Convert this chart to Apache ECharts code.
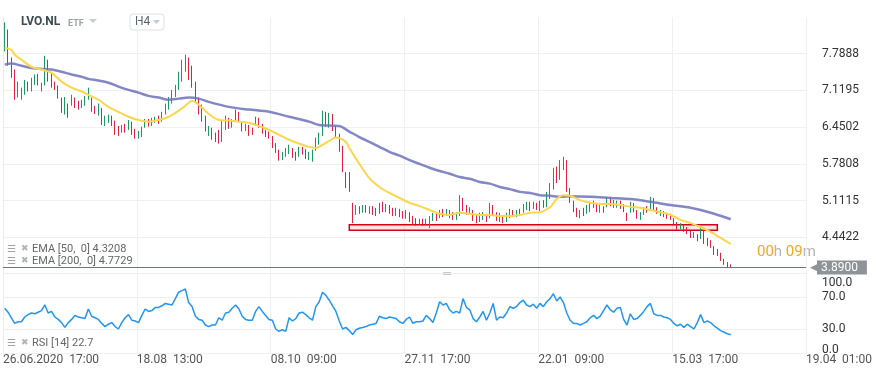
<!DOCTYPE html>
<html>
<head>
<meta charset="utf-8">
<title>LVO.NL H4</title>
<script src="https://cdn.jsdelivr.net/npm/echarts@6/dist/echarts.min.js"></script>
<style>
  html, body { margin: 0; padding: 0; background: #fff; }
  #chart { width: 882px; height: 377px; }
</style>
</head>
<body>
<div id="chart"></div>
<script>
// time axis labels, one every 40 slots
const xTickLabels = ['26.06.2020  17:00', '18.08  13:00', '08.10  09:00', '27.11  17:00', '22.01  09:00', '15.03  17:00', '19.04  01:00']
const priceTicks = [4.4422, 5.1115, 5.7808, 6.4502, 7.1195, 7.7888]
const rsiTicks = [0, 30, 70, 100]
const lastPrice = 3.89

// H4 candles: [open, close, low, high]
const candles = [
  [7.86, 8.17, 7.83, 8.36], [8.14, 7.64, 7.57, 8.23], [7.64, 7.41, 7.35, 7.72], [7.46, 7.04, 6.95, 7.50], [7.04, 7.22, 6.99, 7.28],
  [6.99, 7.10, 6.95, 7.17], [7.10, 7.26, 7.04, 7.31], [7.24, 7.13, 7.10, 7.28], [7.13, 7.31, 7.10, 7.35], [7.26, 7.37, 7.22, 7.41],
  [7.39, 7.26, 7.21, 7.42], [7.13, 7.22, 7.10, 7.26], [7.24, 7.68, 7.21, 7.75], [7.64, 7.35, 7.28, 7.68], [7.41, 7.22, 7.17, 7.46],
  [7.24, 7.17, 7.13, 7.28], [7.17, 7.00, 6.97, 7.21], [6.95, 6.77, 6.71, 6.99], [6.73, 6.95, 6.68, 7.00], [6.84, 6.68, 6.62, 6.88],
  [6.88, 7.00, 6.84, 7.04], [6.95, 6.84, 6.80, 6.99], [6.89, 6.80, 6.77, 6.93], [6.84, 6.89, 6.80, 6.95], [6.88, 6.99, 6.84, 7.02],
  [6.99, 7.13, 6.95, 7.17], [6.95, 6.77, 6.73, 6.99], [6.80, 6.73, 6.69, 6.84], [6.69, 6.84, 6.66, 6.88], [6.77, 6.55, 6.49, 6.80],
  [6.51, 6.62, 6.47, 6.66], [6.55, 6.64, 6.53, 6.68], [6.62, 6.51, 6.47, 6.66], [6.53, 6.37, 6.31, 6.57], [6.44, 6.33, 6.29, 6.47],
  [6.37, 6.46, 6.35, 6.49], [6.47, 6.38, 6.35, 6.51], [6.44, 6.55, 6.40, 6.58], [6.51, 6.37, 6.31, 6.55], [6.38, 6.27, 6.24, 6.42],
  [6.27, 6.35, 6.24, 6.38], [6.31, 6.42, 6.27, 6.46], [6.46, 6.57, 6.44, 6.60], [6.57, 6.47, 6.46, 6.60], [6.49, 6.58, 6.47, 6.62],
  [6.55, 6.60, 6.53, 6.64], [6.62, 6.55, 6.51, 6.66], [6.57, 6.69, 6.55, 6.73], [6.69, 6.84, 6.68, 6.88], [6.80, 6.95, 6.77, 7.00],
  [6.91, 7.08, 6.88, 7.13], [7.04, 7.19, 7.00, 7.22], [7.17, 7.39, 7.13, 7.46], [7.35, 7.61, 7.28, 7.68], [7.53, 7.72, 7.46, 7.77],
  [7.64, 7.41, 7.31, 7.72], [7.46, 7.21, 7.17, 7.57], [7.22, 6.95, 6.89, 7.28], [6.95, 6.73, 6.68, 6.99], [6.80, 6.58, 6.55, 6.86],
  [6.62, 6.40, 6.37, 6.66], [6.33, 6.44, 6.29, 6.47], [6.40, 6.26, 6.22, 6.44], [6.31, 6.22, 6.18, 6.35], [6.37, 6.18, 6.15, 6.40],
  [6.22, 6.49, 6.18, 6.58], [6.44, 6.62, 6.40, 6.66], [6.58, 6.46, 6.42, 6.62], [6.47, 6.57, 6.44, 6.60], [6.73, 6.62, 6.58, 6.77],
  [6.69, 6.58, 6.55, 6.73], [6.51, 6.40, 6.37, 6.55], [6.40, 6.47, 6.38, 6.51], [6.46, 6.33, 6.29, 6.49], [6.40, 6.33, 6.31, 6.44],
  [6.51, 6.60, 6.47, 6.64], [6.58, 6.47, 6.44, 6.62], [6.47, 6.37, 6.33, 6.51], [6.37, 6.29, 6.27, 6.40], [6.33, 6.27, 6.24, 6.37],
  [6.26, 6.11, 6.07, 6.29], [6.13, 6.04, 5.98, 6.16], [6.00, 5.89, 5.84, 6.04], [5.89, 5.96, 5.85, 6.00], [5.93, 6.04, 5.91, 6.07],
  [6.00, 6.09, 5.96, 6.13], [6.04, 5.93, 5.89, 6.07], [5.96, 5.87, 5.84, 6.00], [5.95, 6.05, 5.91, 6.09], [6.05, 5.98, 5.95, 6.09],
  [6.02, 5.91, 5.87, 6.05], [5.89, 5.96, 5.85, 6.00], [5.85, 6.00, 5.82, 6.04], [6.04, 6.22, 6.02, 6.26], [6.16, 6.29, 6.13, 6.35],
  [6.33, 6.68, 6.29, 6.75], [6.69, 6.51, 6.46, 6.73], [6.47, 6.66, 6.44, 6.71], [6.66, 6.44, 6.38, 6.69], [6.44, 6.29, 6.26, 6.47],
  [6.29, 6.07, 6.00, 6.33], [6.07, 5.71, 5.63, 6.11], [5.58, 5.38, 5.34, 5.63], [5.53, 5.31, 5.27, 5.63], [5.05, 4.76, 4.70, 5.07],
  [4.89, 4.99, 4.85, 5.03], [4.98, 4.90, 4.87, 5.01], [4.90, 4.99, 4.89, 5.03], [4.99, 4.92, 4.89, 5.03], [4.90, 4.98, 4.87, 5.01],
  [4.98, 4.89, 4.85, 5.01], [4.94, 4.87, 4.83, 4.98], [4.90, 5.01, 4.87, 5.07], [5.05, 4.94, 4.90, 5.09], [4.92, 5.01, 4.90, 5.05],
  [4.99, 4.90, 4.87, 5.03], [4.94, 4.87, 4.83, 4.98], [4.87, 4.94, 4.83, 4.98], [4.92, 4.85, 4.81, 4.96], [4.89, 4.81, 4.78, 4.92],
  [4.79, 4.90, 4.78, 4.94], [4.87, 4.76, 4.72, 4.90], [4.79, 4.70, 4.67, 4.83], [4.76, 4.69, 4.65, 4.79], [4.69, 4.74, 4.67, 4.78],
  [4.74, 4.69, 4.65, 4.78], [4.67, 4.74, 4.65, 4.78], [4.65, 4.79, 4.61, 4.83], [4.78, 4.85, 4.74, 4.89], [4.85, 4.78, 4.74, 4.89],
  [4.81, 4.90, 4.79, 4.94], [4.92, 4.85, 4.81, 4.96], [4.85, 4.92, 4.83, 4.96], [4.90, 4.83, 4.79, 4.94], [4.87, 4.79, 4.76, 4.90],
  [4.78, 4.87, 4.76, 4.90], [4.87, 5.16, 4.83, 5.21], [5.12, 4.96, 4.92, 5.16], [4.99, 4.89, 4.85, 5.03], [4.89, 4.96, 4.87, 4.99],
  [4.90, 4.78, 4.74, 4.94], [4.81, 4.74, 4.70, 4.85], [4.74, 4.85, 4.72, 4.89], [4.78, 4.87, 4.76, 4.90], [4.83, 4.76, 4.72, 4.87],
  [4.83, 5.01, 4.79, 5.07], [4.99, 4.89, 4.85, 5.03], [4.87, 4.78, 4.74, 4.90], [4.76, 4.85, 4.72, 4.89], [4.81, 4.72, 4.70, 4.85],
  [4.74, 4.85, 4.72, 4.89], [4.83, 4.92, 4.79, 4.96], [4.90, 4.83, 4.81, 4.94], [4.85, 4.90, 4.81, 4.94], [4.92, 4.87, 4.83, 4.96],
  [4.90, 5.01, 4.89, 5.05], [4.98, 5.05, 4.94, 5.09], [5.05, 4.96, 4.92, 5.09], [4.98, 5.05, 4.96, 5.09], [5.03, 4.98, 4.94, 5.07],
  [4.96, 5.07, 4.92, 5.11], [5.09, 5.01, 4.98, 5.12], [5.03, 5.21, 4.99, 5.27], [5.18, 5.38, 5.14, 5.43], [5.34, 5.63, 5.31, 5.71],
  [5.67, 5.49, 5.43, 5.73], [5.53, 5.78, 5.49, 5.85], [5.74, 5.85, 5.67, 5.91], [5.82, 5.34, 5.27, 5.85], [5.31, 5.12, 5.07, 5.34],
  [5.07, 4.94, 4.90, 5.11], [4.94, 4.85, 4.81, 4.98], [4.83, 4.90, 4.79, 4.94], [4.94, 4.87, 4.83, 4.98], [4.89, 4.99, 4.87, 5.03],
  [4.94, 5.05, 4.90, 5.09], [5.07, 4.99, 4.98, 5.11], [5.03, 4.94, 4.90, 5.07], [4.92, 4.99, 4.89, 5.03], [4.98, 4.90, 4.89, 5.01],
  [5.01, 5.14, 4.99, 5.18], [5.14, 5.05, 5.01, 5.18], [5.09, 5.01, 4.98, 5.12], [5.01, 5.07, 4.98, 5.11], [5.07, 4.98, 4.96, 5.11],
  [5.01, 4.94, 4.90, 5.05], [4.85, 4.76, 4.74, 4.89], [4.90, 5.05, 4.89, 5.09], [5.03, 4.94, 4.90, 5.07], [4.90, 4.79, 4.78, 4.94],
  [4.78, 4.87, 4.76, 4.90], [4.87, 4.96, 4.85, 4.99], [4.98, 4.90, 4.89, 5.01], [4.94, 5.14, 4.92, 5.18], [5.12, 4.96, 4.94, 5.16],
  [4.96, 4.89, 4.87, 4.99], [4.85, 4.90, 4.83, 4.94], [4.89, 4.83, 4.81, 4.92], [4.85, 4.79, 4.78, 4.89], [4.83, 4.78, 4.76, 4.87],
  [4.76, 4.69, 4.65, 4.79], [4.69, 4.61, 4.58, 4.72], [4.61, 4.67, 4.59, 4.70], [4.63, 4.58, 4.54, 4.67], [4.59, 4.52, 4.50, 4.63],
  [4.52, 4.45, 4.43, 4.56], [4.45, 4.50, 4.43, 4.54], [4.47, 4.39, 4.37, 4.50], [4.43, 4.58, 4.41, 4.61], [4.54, 4.36, 4.32, 4.58],
  [4.39, 4.32, 4.28, 4.43], [4.36, 4.28, 4.25, 4.39], [4.25, 4.16, 4.12, 4.28], [4.19, 4.12, 4.10, 4.23], [4.12, 4.03, 4.01, 4.16],
  [4.01, 3.95, 3.94, 4.05], [3.97, 3.92, 3.90, 3.99], [3.94, 3.89, 3.88, 3.95]
]

// EMA values as [slot, price]
const ema50 = [
  [0, 7.90], [2, 7.86], [3, 7.77], [5, 7.68], [8, 7.55], [11, 7.50], [14, 7.44], [17, 7.28], [20, 7.17], [23, 7.10],
  [25, 7.04], [28, 6.95], [31, 6.82], [34, 6.73], [37, 6.64], [40, 6.58], [43, 6.55], [46, 6.58], [49, 6.64], [52, 6.75],
  [54, 6.84], [56, 6.93], [58, 6.86], [61, 6.69], [64, 6.58], [67, 6.57], [70, 6.55], [73, 6.53], [76, 6.47], [79, 6.40],
  [82, 6.31], [85, 6.22], [88, 6.15], [91, 6.09], [93, 6.07], [95, 6.13], [97, 6.20], [99, 6.26], [102, 6.18], [103, 6.07],
  [106, 5.78], [109, 5.52], [112, 5.36], [115, 5.25], [118, 5.16], [121, 5.07], [124, 5.01], [127, 4.94], [130, 4.87], [133, 4.85],
  [136, 4.89], [139, 4.87], [142, 4.85], [145, 4.85], [148, 4.83], [151, 4.83], [154, 4.85], [157, 4.89], [160, 4.90], [163, 4.99],
  [165, 5.14], [167, 5.21], [169, 5.20], [172, 5.12], [175, 5.07], [178, 5.05], [181, 5.05], [184, 5.03], [187, 5.00], [190, 4.98],
  [193, 4.94], [196, 4.90], [199, 4.85], [202, 4.76], [205, 4.70], [208, 4.63], [211, 4.54], [214, 4.43], [217, 4.32]
]
const ema200 = [
  [0, 7.59], [2, 7.61], [5, 7.57], [8, 7.53], [11, 7.51], [14, 7.50], [17, 7.46], [20, 7.41], [23, 7.37], [25, 7.33],
  [28, 7.30], [31, 7.26], [34, 7.19], [37, 7.13], [40, 7.08], [43, 7.02], [46, 6.99], [49, 6.95], [52, 6.97], [55, 6.99],
  [58, 6.97], [61, 6.91], [67, 6.82], [73, 6.77], [79, 6.73], [85, 6.64], [91, 6.55], [94, 6.49], [100, 6.47], [103, 6.37],
  [106, 6.27], [109, 6.18], [112, 6.09], [115, 6.00], [118, 5.93], [121, 5.85], [124, 5.78], [127, 5.71], [130, 5.65], [133, 5.60],
  [136, 5.54], [139, 5.51], [142, 5.45], [145, 5.42], [148, 5.36], [151, 5.32], [154, 5.27], [157, 5.25], [160, 5.21], [163, 5.20],
  [166, 5.18], [169, 5.19], [175, 5.18], [181, 5.16], [187, 5.14], [193, 5.09], [199, 5.03], [205, 4.98], [211, 4.89], [217, 4.77]
]

// RSI(14), one value per candle
const rsi14 = [
  56, 51, 44, 37, 39, 39, 45, 48, 50, 49, 51, 53, 60, 50, 52, 45, 42, 38, 32, 38,
  42, 47, 45, 44, 43, 55, 46, 44, 42, 37, 33, 36, 38, 33, 30, 38, 44, 48, 41, 40,
  38, 47, 55, 52, 53, 57, 57, 59, 62, 61, 60, 68, 76, 78, 80, 63, 58, 46, 42, 41,
  35, 33, 35, 35, 44, 41, 50, 51, 56, 60, 55, 46, 42, 41, 41, 52, 58, 52, 47, 42,
  41, 30, 27, 29, 27, 44, 40, 43, 50, 51, 48, 44, 41, 58, 64, 76, 72, 66, 59, 52,
  40, 30, 32, 28, 23, 29, 31, 32, 33, 35, 36, 37, 46, 44, 43, 45, 44, 43, 39, 37,
  42, 45, 37, 39, 39, 40, 47, 43, 38, 50, 64, 60, 62, 54, 50, 52, 50, 68, 57, 54,
  43, 39, 45, 52, 41, 50, 62, 41, 45, 44, 50, 58, 56, 58, 63, 66, 60, 58, 61, 56,
  62, 58, 64, 68, 74, 65, 70, 63, 50, 41, 37, 37, 35, 37, 39, 44, 47, 43, 46, 53,
  60, 54, 51, 56, 57, 42, 35, 49, 42, 43, 47, 52, 58, 62, 49, 47, 47, 45, 44, 42,
  37, 34, 36, 32, 36, 33, 30, 38, 48, 38, 40, 38, 34, 31, 28, 26, 24, 22.7
]

// support zone drawn on the price panel: [slot, price] corners
const zoneFrom = [103, 4.67]
const zoneTo = [213, 4.57]

const slotCount = 240
const slots = []
for (let i = 0; i < slotCount; i++) slots.push(i)

const gridColor = '#f0f0f0'
const labelFont = 'Roboto, sans-serif'

function hiddenCat(gridIndex, position) {
  return {
    type: 'category', gridIndex: gridIndex, data: slots, position: position, boundaryGap: true,
    axisLine: { show: false }, axisTick: { show: false }, axisLabel: { show: false }, splitLine: { show: false }
  }
}

function timeAxis(gridIndex, withLabels) {
  return {
    type: 'value', gridIndex: gridIndex, position: 'bottom', min: 0, max: slotCount, interval: 40,
    axisLine: { show: false },
    axisTick: { show: false },
    axisLabel: {
      show: withLabels,
      showMinLabel: true,
      showMaxLabel: true,
      formatter: (v) => xTickLabels[Math.round(v / 40)],
      align: 'left',
      margin: 1,
      color: '#555',
      fontSize: 12,
      fontFamily: labelFont
    },
    splitLine: { show: true, lineStyle: { color: gridColor, width: 1 } }
  }
}

const chart = echarts.init(document.getElementById('chart'))
const option = {
  animation: false,
  textStyle: { fontFamily: labelFont },
  grid: [
    { left: 3, right: 76, top: 17, bottom: 103 },
    { left: 3, right: 76, top: 273, bottom: 24 }
  ],
  xAxis: [
    hiddenCat(0, 'bottom'),
    timeAxis(0, false),
    hiddenCat(1, 'top'),
    timeAxis(1, true)
  ],
  yAxis: [
    {
      type: 'value', gridIndex: 0, position: 'right', min: 3.7729, max: 8.4581,
      axisLine: { show: true, lineStyle: { color: '#ececec' } },
      axisTick: { show: false, customValues: priceTicks },
      axisLabel: {
        customValues: priceTicks,
        formatter: (v) => v.toFixed(4),
        margin: 16, color: '#333', fontSize: 12, fontFamily: labelFont
      },
      splitLine: { show: true, lineStyle: { color: gridColor } }
    },
    {
      type: 'value', gridIndex: 1, position: 'right', min: 0, max: 100,
      axisLine: { show: true, lineStyle: { color: '#ececec' } },
      axisTick: { show: false, customValues: rsiTicks },
      axisLabel: {
        customValues: rsiTicks,
        formatter: (v) => {
          if (v === 100) return '{top|100.0}'
          if (v === 0) return '{bot|0.0}'
          return v.toFixed(1)
        },
        rich: {
          top: { padding: [19, 0, 0, 0], color: '#333', fontSize: 12, fontFamily: labelFont },
          bot: { padding: [0, 0, 6, 0], color: '#333', fontSize: 12, fontFamily: labelFont }
        },
        margin: 16, color: '#333', fontSize: 12, fontFamily: labelFont
      },
      splitLine: { show: true, lineStyle: { color: gridColor } }
    }
  ],
  series: [
    {
      type: 'candlestick',
      xAxisIndex: 0,
      yAxisIndex: 0,
      data: candles,
      barWidth: 1.2,
      itemStyle: {
        color: '#1a9a5c',
        color0: '#e4213c',
        borderColor: '#1a9a5c',
        borderColor0: '#e4213c',
        borderWidth: 1
      },
      markArea: {
        silent: true,
        itemStyle: { color: 'rgba(255, 70, 70, 0.15)', borderColor: '#d0021b', borderWidth: 1.5 },
        data: [[{ xAxis: zoneFrom[0], yAxis: zoneFrom[1] }, { xAxis: zoneTo[0], yAxis: zoneTo[1] }]]
      },
      markLine: {
        silent: true,
        symbol: 'none',
        lineStyle: { color: '#6f767a', width: 1, type: 'solid' },
        label: {
          position: 'end',
          distance: 4,
          formatter: '{a|◀}{b|' + lastPrice.toFixed(4) + '}',
          rich: {
            a: { color: '#8d9397', fontSize: 13, padding: [0, -3, 0, 0] },
            b: { color: '#fff', backgroundColor: '#8d9397', fontSize: 12, fontFamily: labelFont, padding: [1, 9, 1, 4] }
          }
        },
        data: [{ yAxis: lastPrice }]
      }
    },
    {
      type: 'line',
      name: 'EMA 200',
      xAxisIndex: 0,
      yAxisIndex: 0,
      data: ema200,
      smooth: 0.3,
      showSymbol: false,
      lineStyle: { color: '#6d72ba', width: 2.5, opacity: 0.85 }
    },
    {
      type: 'line',
      name: 'EMA 50',
      xAxisIndex: 0,
      yAxisIndex: 0,
      data: ema50,
      smooth: 0.3,
      showSymbol: false,
      lineStyle: { color: '#fdd64c', width: 2 }
    },
    {
      type: 'line',
      name: 'RSI 14',
      xAxisIndex: 2,
      yAxisIndex: 1,
      data: rsi14,
      showSymbol: false,
      lineStyle: { color: '#2196f3', width: 1.5 }
    }
  ],
  graphic: [
    { type: 'text', left: 21, top: 16, style: { text: 'LVO.NL', font: 'bold 12px Roboto', fill: '#3d4b53' } },
    { type: 'text', left: 68, top: 19, style: { text: 'ETF', font: 'bold 9px Roboto', fill: '#98a4ab' } },
    { type: 'polygon', shape: { points: [[89, 19], [97, 19], [93, 23]] }, style: { fill: '#c5cbcf' } },
    { type: 'rect', shape: { x: 130, y: 14, width: 34, height: 16, r: 3 }, style: { fill: '#fff', stroke: '#dde1e4', lineWidth: 1 } },
    { type: 'text', left: 135, top: 16, style: { text: 'H4', font: '12px Roboto', fill: '#55636b' } },
    { type: 'polygon', shape: { points: [[153, 20], [160, 20], [156.5, 24]] }, style: { fill: '#c5cbcf' } },

    { type: 'text', left: 7, top: 244, style: { text: '☰', font: '10px DejaVu Sans', fill: '#a3a3a3' } },
    { type: 'text', left: 21, top: 244, style: { text: '✖', font: '9px DejaVu Sans', fill: '#b3b3b3' } },
    { type: 'text', left: 32, top: 244, style: { text: 'EMA [50,  0] 4.3208', font: '11px Roboto', fill: '#666' } },
    { type: 'text', left: 7, top: 256, style: { text: '☰', font: '10px DejaVu Sans', fill: '#a3a3a3' } },
    { type: 'text', left: 21, top: 256, style: { text: '✖', font: '9px DejaVu Sans', fill: '#b3b3b3' } },
    { type: 'text', left: 32, top: 256, style: { text: 'EMA [200,  0] 4.7729', font: '11px Roboto', fill: '#666' } },

    { type: 'text', left: 7, top: 338, style: { text: '☰', font: '10px DejaVu Sans', fill: '#a3a3a3' } },
    { type: 'text', left: 21, top: 338, style: { text: '✖', font: '9px DejaVu Sans', fill: '#b3b3b3' } },
    { type: 'text', left: 32, top: 338, style: { text: 'RSI [14] 22.7', font: '11px Roboto', fill: '#666' } },

    {
      type: 'text', left: 757, top: 245,
      style: {
        text: '{o|00}{g|h }{o|09}{g|m}',
        rich: {
          o: { fill: '#f6a623', font: '15px Roboto' },
          g: { fill: '#b5b5b5', font: '15px Roboto' }
        }
      }
    },
    { type: 'rect', shape: { x: 443, y: 272, width: 8, height: 3 }, style: { fill: '#c8c8c8' } }
  ]
}
chart.setOption(option)
window.onresize = () => {
  chart.resize()
}
</script>
</body>
</html>
